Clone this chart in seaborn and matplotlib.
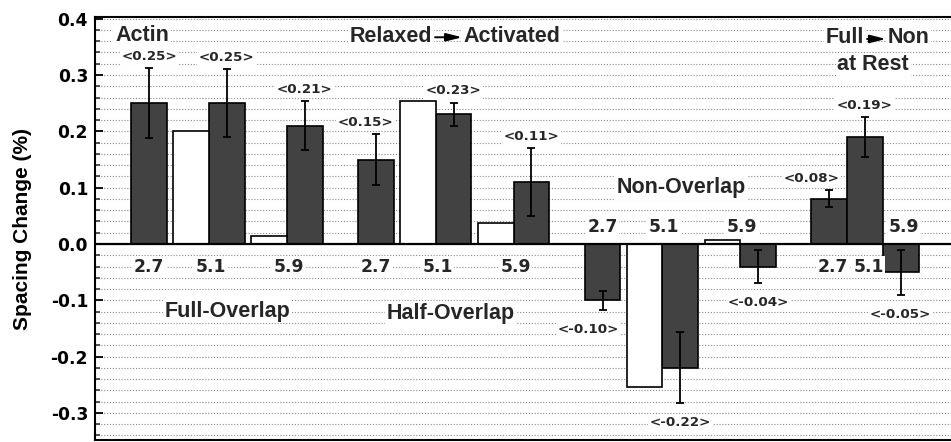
import numpy as np
import pandas as pd
import matplotlib
matplotlib.use("Agg")
import matplotlib.pyplot as plt
import seaborn as sns
from matplotlib.ticker import MultipleLocator, FormatStrFormatter

# ---- data -------------------------------------------------------------
groups = ["Full-Overlap", "Half-Overlap", "Non-Overlap"]
lengths = ["2.7", "5.1", "5.9"]

# filled bars (with SEM) per group, one value per sarcomere length
actin_full = [0.25, 0.25, 0.21]
actin_half = [0.15, 0.23, 0.11]
actin_non = [-0.10, -0.22, -0.04]
actin_rest = [0.08, 0.19, -0.05]

err_full = [0.062, 0.060, 0.043]
err_half = [0.045, 0.021, 0.060]
err_non = [0.017, 0.063, 0.030]
err_rest = [0.015, 0.035, 0.040]

# open bars (no value at 2.7; none for the resting comparison)
open_full = [np.nan, 0.20, 0.015]
open_half = [np.nan, 0.254, 0.038]
open_non = [np.nan, -0.254, 0.007]
open_rest = [np.nan, np.nan, np.nan]

y_ticks = [-0.3, -0.2, -0.1, 0.0, 0.1, 0.2, 0.3, 0.4]

# ---- layout -----------------------------------------------------------
GROUP_STEP = 6.35
SLOT_STEP = 2.18
REST_STEP = 1.0

filled = [actin_full, actin_half, actin_non, actin_rest]
errors = [err_full, err_half, err_non, err_rest]
opened = [open_full, open_half, open_non, open_rest]

rows = []
dark_pos, dark_val, dark_err, dark_gs = [], [], [], []
for g in range(4):
    for s in range(3):
        if g < 3:
            x = g * GROUP_STEP + s * SLOT_STEP
        else:
            x = 3 * GROUP_STEP + s * REST_STEP
        rows.append({"pos": round(x, 6), "value": filled[g][s], "kind": "filled"})
        dark_pos.append(x)
        dark_val.append(filled[g][s])
        dark_err.append(errors[g][s])
        dark_gs.append((g, s))
        if not np.isnan(opened[g][s]):
            rows.append({"pos": round(x - 1.0, 6), "value": opened[g][s], "kind": "open"})

df = pd.DataFrame(rows)

# ---- style ------------------------------------------------------------
sns.set_theme(style="white")
plt.rcParams["font.family"] = ["DejaVu Sans"]
plt.rcParams["font.weight"] = "bold"
plt.rcParams["axes.unicode_minus"] = False

WORD_FONT = ["Liberation Sans", "DejaVu Sans"]
DARK = "#424242"

fig = plt.figure(figsize=(9.51, 4.42), dpi=100)
ax = fig.add_axes([95 / 951, 2 / 442, 856 / 951, 423 / 442])

# dotted horizontal grid every 0.02
for yv in np.arange(-0.34, 0.40 + 1e-9, 0.02):
    ax.axhline(yv, color="#8a8a8a", lw=0.8, ls=(0, (1, 1.6)), zorder=0)

sns.barplot(
    data=df, x="pos", y="value", hue="kind",
    palette={"filled": DARK, "open": "white"},
    native_scale=True, dodge=False, width=1.0,
    edgecolor="black", linewidth=1.2, errorbar=None,
    legend=False, ax=ax, zorder=2,
)

ax.errorbar(dark_pos, dark_val, yerr=dark_err, fmt="none", ecolor="black",
            elinewidth=1.3, capsize=3, capthick=1.3, zorder=3)

ax.axhline(0, color="black", lw=1.6, zorder=4)

ax.set_xlim(-1.513, 22.46)
ax.set_ylim(-0.348, 0.403)
ax.set_xticks([])
ax.set_xlabel("")
ax.set_yticks(y_ticks)
ax.yaxis.set_major_formatter(FormatStrFormatter("%.1f"))
ax.yaxis.set_minor_locator(MultipleLocator(0.02))
ax.tick_params(axis="y", which="major", direction="in", length=6, width=1.3,
               left=True, labelsize=12.3, pad=5, colors="black")
ax.tick_params(axis="y", which="minor", direction="in", length=3.5, width=1.1,
               left=True)
for lab in ax.get_yticklabels():
    lab.set_fontweight("bold")

for side in ["left", "top", "bottom"]:
    ax.spines[side].set_color("black")
    ax.spines[side].set_linewidth(1.5)
ax.spines["right"].set_visible(False)

ax.set_ylabel("Spacing Change (%)", family=WORD_FONT, fontsize=15,
              fontweight="bold", color="black")
ax.yaxis.set_label_coords(-0.074, 0.5)

box = dict(facecolor="white", edgecolor="none", pad=1.2)

# mean value labels above / below each error bar
value_nudge = {(1, 0): -0.3, (2, 0): -0.4, (3, 0): -0.5}
for x, v, e, gs in zip(dark_pos, dark_val, dark_err, dark_gs):
    xx = x + value_nudge.get(gs, 0.0)
    if v >= 0:
        ax.annotate(f"<{v:.2f}>", (xx, v + e), xytext=(0, 8.5),
                    textcoords="offset points", ha="center", va="center",
                    fontsize=9.7, fontweight="bold", bbox=box, zorder=5)
    else:
        ax.annotate(f"<{v:.2f}>", (xx, v - e), xytext=(0, -14),
                    textcoords="offset points", ha="center", va="center",
                    fontsize=9.7, fontweight="bold", bbox=box, zorder=5)

# sarcomere length labels
for x, v, (g, s) in zip(dark_pos, dark_val, dark_gs):
    if g < 3:
        lx = x if s == 0 else x - 0.45
    else:
        lx = x + 0.1
    ly = -0.041 if v > 0 else 0.031
    ax.text(lx, ly, lengths[s], ha="center", va="center", fontsize=12.3,
            fontweight="bold", bbox=box, zorder=5)

# group titles
word = dict(family=WORD_FONT, fontsize=15.5, fontweight="bold",
            ha="center", va="center", bbox=box, zorder=5)


def arrow_title(left, right, x0, x1, y):
    """Two words joined by a solid-headed arrow running from x0 to x1."""
    ax.text(x0 - 0.08, y, left, **{**word, "ha": "right"})
    ax.text(x1 + 0.05, y, right, **{**word, "ha": "left"})
    ax.annotate("", xy=(x1, y - 0.002), xytext=(x0, y - 0.002),
                arrowprops=dict(arrowstyle="-|>,head_length=0.95,head_width=0.24",
                                mutation_scale=10, lw=1.4, color="black",
                                shrinkA=0, shrinkB=0), zorder=6)


ax.text(-0.95, 0.370, "Actin", **{**word, "ha": "left"})
arrow_title("Relaxed", "Activated", 8.01, 8.77, 0.369)
arrow_title("Full", "Non", 20.11, 20.64, 0.366)
ax.text(20.28, 0.318, "at Rest", **word)
ax.text(2.20, -0.119, groups[0], **word)
ax.text(8.46, -0.123, groups[1], **word)
ax.text(14.90, 0.100, groups[2], **word)

fig.savefig("out.png", dpi=100)
